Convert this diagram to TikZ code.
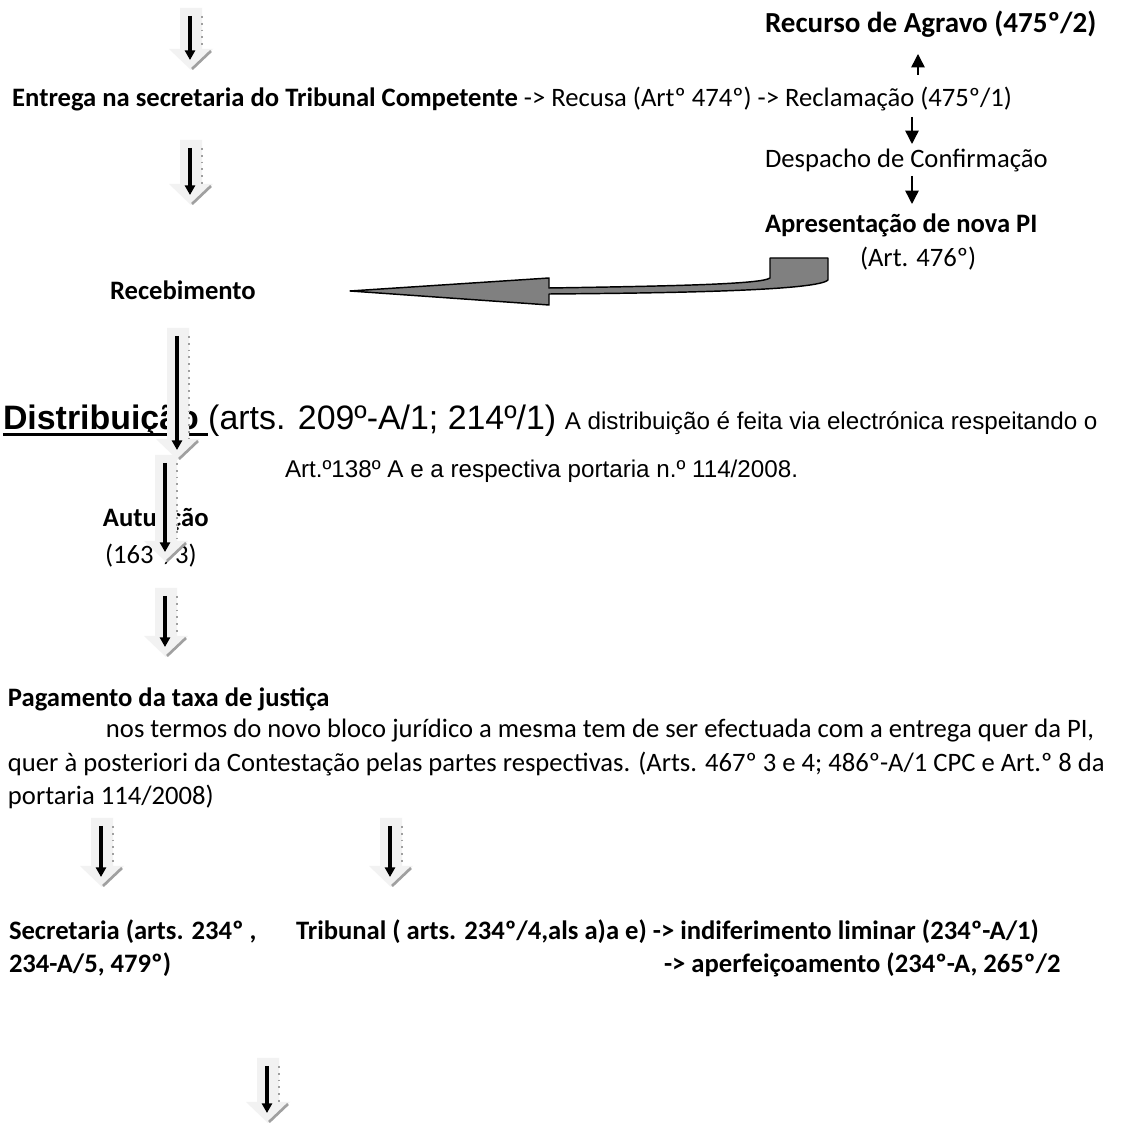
\documentclass[tikz,border=0pt]{standalone}
\usepackage{fontspec}
\setmainfont{Carlito}
\newfontfamily\arialf{Liberation Sans}
\usetikzlibrary{arrows.meta}
\definecolor{shaftfill}{HTML}{F2F2F2}
\definecolor{shadegray}{HTML}{A0A0A0}
\definecolor{curvefill}{HTML}{808080}
\tikzset{
  txt/.style={inner sep=0pt, outer sep=0pt, anchor=base west, font=\fontsize{11}{13}\selectfont},
  boldtxt/.style={txt, font=\fontsize{11}{13}\selectfont\bfseries},
  ariallg/.style={inner sep=0pt, outer sep=0pt, anchor=base west, font=\arialf\fontsize{14}{16}\selectfont},
  arialsm/.style={inner sep=0pt, outer sep=0pt, anchor=base west, font=\arialf\fontsize{10}{12}\selectfont},
  thinarrow/.style={line width=0.6pt, -{Triangle[length=5.5pt,width=5.5pt]}},
  blackshaft/.style={line width=1.6pt, -{Triangle[length=4pt,width=4.2pt]}},
  arrowbody/.style={fill=shaftfill},
  bevel/.style={draw=shadegray, dotted, line width=0.8pt},
  bevelhead/.style={draw=shadegray, line width=1.1pt},
  curvearrow/.style={fill=curvefill, draw=black, line width=0.6pt, line join=round},
}
\newcommand\blockdown[3]{%
  \fill[arrowbody] (#1-11,#2) -- (#1+11,#2) -- (#1+11,#3-21) -- (#1+22,#3-21) -- (#1,#3) -- (#1-22,#3-21) -- (#1-11,#3-21) -- cycle;
  \draw[bevel] (#1+11,#2+8) -- (#1+11,#3-21);
  \draw[bevelhead] (#1+20,#3-19) -- (#1+1,#3-1);
  \draw[blackshaft] (#1-1,#2+8) -- (#1-1,#3-10);
}
\begin{document}
\begin{tikzpicture}[x=0.4132pt, y=-0.4132pt]
\fill[white] (0,0) rectangle (1138,1124);
\useasboundingbox (0,0) rectangle (1138,1124);

% right-hand branch
\node[boldtxt, font=\fontsize{12}{14}\selectfont\bfseries] (recurso) at (765,33) {Recurso de Agravo (475º/2)};
\node[txt, anchor=base east] (entrega) at (1012,107) {\textbf{Entrega na secretaria do Tribunal Competente} -> Recusa (Artº 474º) -> Reclamação (475º/1)};
\node[txt] (despacho) at (765,168) {Despacho de Confirmação};
\node[boldtxt] (apres) at (765,233) {Apresentação de nova PI};
\node[txt] (art476) at (860,267) {(Art. 476º)};

\coordinate (u1s) at (918,75);
\coordinate (u1e) at (918,54);
\coordinate (d1s) at (912,117);
\coordinate (d1e) at (912,144);
\coordinate (d2s) at (912,176);
\coordinate (d2e) at (912,204);
\draw[thinarrow] (u1s) -- (u1e);
\draw[thinarrow] (d1s) -- (d1e);
\draw[thinarrow] (d2s) -- (d2e);

% main column
\node[boldtxt] (receb) at (110,300) {Recebimento};
\node[ariallg, font=\arialf\fontsize{14}{16}\selectfont\bfseries] (distword) at (3,430) {Distribuição};
\node[ariallg] (distarts) at ([xshift=3.9pt]distword.base east) {(arts. 209º-A/1; 214º/1)};
\node[arialsm] (distrest) at ([xshift=3.5pt]distarts.base east) {A distribuição é feita via electrónica respeitando o};
\draw[line width=1.2pt] ([yshift=-2pt]distword.base west) -- ([yshift=-2pt]distarts.base west);
\node[arialsm] (art138) at (285,478) {Art.º138º A e a respectiva portaria n.º 114/2008.};
\node[boldtxt] (autua) at (103,527) {Autuação};
\node[txt] (autref) at (105,564) {(163º/3)};

\node[boldtxt] (pagam) at (8,707) {Pagamento da taxa de justiça};
\node[txt] (par1) at (106,738) {nos termos do novo bloco jurídico a mesma tem de ser efectuada com a entrega quer da PI,};
\node[txt] (par2) at (8,772) {quer à posteriori da Contestação pelas partes respectivas. (Arts. 467º 3 e 4; 486º-A/1 CPC e Art.º 8 da};
\node[txt] (par3) at (8,805) {portaria 114/2008)};

\node[boldtxt] (secr1) at (9,940) {Secretaria (arts. 234º ,};
\node[boldtxt] (secr2) at (9,973) {234-A/5, 479º)};
\node[boldtxt] (trib1) at (296,940) {Tribunal ( arts. 234º/4,als a)a e) -> indiferimento liminar (234º-A/1)};
\node[boldtxt] (trib2) at (664,973) {-> aperfeiçoamento (234º-A, 265º/2};

% curved return arrow (Apresentacao -> Recebimento)
\draw[curvearrow] (350,291) -- (549,278) -- (549,288)
  .. controls (680,286) and (762,284) .. (770,278) -- (770,258) -- (828,258) -- (828,280)
  .. controls (818,290) and (690,293) .. (549,294) -- (549,305) -- cycle;

% block arrows
\blockdown{191}{8}{70}
\blockdown{191}{140}{205}
\blockdown{178}{328}{460}
\blockdown{166}{455}{562}
\blockdown{166}{588}{657}
\blockdown{102}{818}{887}
\blockdown{391}{818}{887}
\blockdown{268}{1058}{1123}
\end{tikzpicture}
\end{document}
